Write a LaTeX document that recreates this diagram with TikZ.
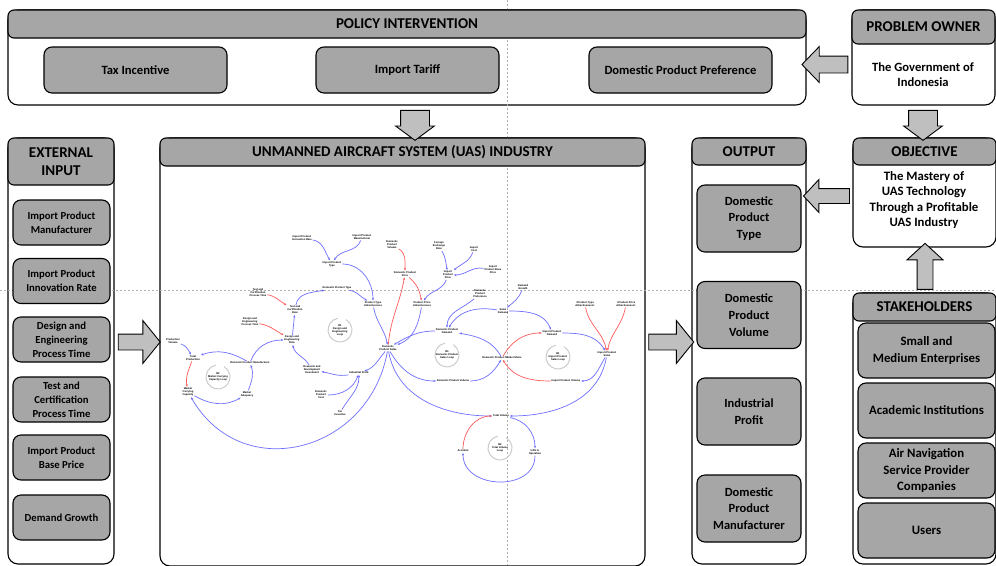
\documentclass[tikz,border=0pt]{standalone}
\usepackage{fontspec}
\setmainfont{Carlito}
\newfontfamily\cldfont{Liberation Sans}
\usetikzlibrary{shapes.arrows, arrows.meta}

\definecolor{headgray}{RGB}{166,166,166}
\definecolor{boxgray}{RGB}{166,166,166}
\definecolor{arrowgray}{RGB}{191,191,191}
\definecolor{cldblue}{RGB}{110,110,255}
\definecolor{cldred}{RGB}{255,90,90}
\definecolor{guidegray}{RGB}{175,175,175}
\definecolor{ringgray}{RGB}{205,205,205}

\newcommand{\headfont}{\fontsize{15}{17.5}\selectfont\bfseries}
\newcommand{\extfont}{\fontsize{10.7}{14}\selectfont\bfseries}
\newcommand{\outfont}{\fontsize{12.5}{16.7}\selectfont\bfseries}
\newcommand{\stakefont}{\fontsize{12.8}{16.5}\selectfont\bfseries}
\newcommand{\polfont}{\fontsize{12.6}{15}\selectfont\bfseries}
\newcommand{\cldtiny}{\cldfont\fontsize{2.6}{3}\selectfont\bfseries}

\tikzset{
  panel/.style={draw, line width=1.1pt, rounded corners=10pt, fill=white, anchor=north west, outer sep=0pt},
  header/.style={draw, line width=1.1pt, rounded corners=6pt, fill=headgray, anchor=north west, outer sep=0pt, align=center, font=\headfont},
  item/.style={draw, line width=1.1pt, rounded corners=8pt, fill=boxgray, align=center, outer sep=0pt},
  extitem/.style={item, minimum width=97, minimum height=45, font=\extfont},
  outitem/.style={item, minimum width=104, minimum height=67, font=\outfont},
  stakeitem/.style={item, minimum width=137, minimum height=55, font=\stakefont},
  politem/.style={item, minimum width=183, minimum height=46, font=\polfont},
  fatarrow/.style={single arrow, draw, line width=0.9pt, fill=arrowgray, inner xsep=0pt, outer sep=0pt},
  guide/.style={guidegray, line width=0.5pt, dash pattern=on 2pt off 2pt},
  var/.style={font=\cldtiny, align=center, inner sep=0.8pt},
  bluelink/.style={cldblue, line width=0.7pt, -{Stealth[length=2.6pt, width=2.2pt]}},
  redlink/.style={cldred, line width=0.7pt, -{Stealth[length=2.6pt, width=2.2pt]}},
  loopring/.style={ringgray, line width=1pt}
}

\begin{document}
\begin{tikzpicture}[x=1pt, y=1pt, font=\bfseries]
\useasboundingbox (0,0) rectangle (996,-565);

% panels
\node[panel, minimum width=798, minimum height=95] (policy) at (8,-10) {};
\node[panel, minimum width=143, minimum height=95] (owner) at (852,-10) {};
\node[panel, minimum width=106, minimum height=426] (extin) at (8,-138) {};
\node[panel, minimum width=485, minimum height=428] (uas) at (160,-138) {};
\node[panel, minimum width=114, minimum height=426] (output) at (692,-138) {};
\node[panel, minimum width=143, minimum height=109] (objective) at (853,-138) {};
\node[panel, minimum width=143, minimum height=271] (stake) at (853,-293) {};

% guide lines
\draw[guide] (0,-290) -- (996,-290);
\draw[guide] (507,0) -- (507,-565);

% headers
\node[header, minimum width=798, minimum height=28] (policyhead) at (policy.north west) {POLICY INTERVENTION};
\node[header, minimum width=143, minimum height=34] (ownerhead) at (owner.north west) {PROBLEM OWNER};
\node[header, minimum width=106, minimum height=47] (extinhead) at (extin.north west) {EXTERNAL\\INPUT};
\node[header, minimum width=485, minimum height=28] (uashead) at (uas.north west) {UNMANNED AIRCRAFT SYSTEM (UAS) INDUSTRY};
\node[header, minimum width=114, minimum height=27] (outputhead) at (output.north west) {OUTPUT};
\node[header, minimum width=143, minimum height=27] (objectivehead) at (objective.north west) {OBJECTIVE};
\node[header, minimum width=143, minimum height=28] (stakehead) at (stake.north west) {STAKEHOLDERS};

% panel texts
\node[align=center, font=\polfont] (ownertext) at (923,-75) {The Government of\\Indonesia};
\node[align=center, font=\fontsize{12.8}{15.5}\selectfont\bfseries] (objectivetext) at (924,-200) {The Mastery of\\UAS Technology\\Through a Profitable\\UAS Industry};

% policy items
\node[politem] (taxbox) at (135.5,-70) {Tax Incentive};
\node[politem] (tariffbox) at (407.5,-70) {Import Tariff};
\node[politem] (prefbox) at (680.5,-70) {Domestic Product Preference};

% external input items
\node[extitem] (ipmbox) at (61.5,-222.5) {Import Product\\Manufacturer};
\node[extitem] (ipirbox) at (61.5,-281) {Import Product\\Innovation Rate};
\node[extitem] (deptbox) at (61.5,-339.5) {Design and\\Engineering\\Process Time};
\node[extitem] (tcptbox) at (61.5,-399.5) {Test and\\Certification\\Process Time};
\node[extitem] (ipbpbox) at (61.5,-457.5) {Import Product\\Base Price};
\node[extitem] (dgbox) at (61.5,-517.5) {Demand Growth};

% output items
\node[outitem] (typebox) at (749,-218.5) {Domestic\\Product\\Type};
\node[outitem] (volbox) at (749,-315) {Domestic\\Product\\Volume};
\node[outitem] (profitbox) at (749,-411.5) {Industrial\\Profit};
\node[outitem] (manufbox) at (749,-508.5) {Domestic\\Product\\Manufacturer};

% stakeholder items
\node[stakeitem] (smebox) at (926.5,-350.5) {Small and\\Medium Enterprises};
\node[stakeitem] (acadbox) at (926.5,-410.5) {Academic Institutions};
\node[stakeitem] (ansbox) at (926.5,-470.5) {Air Navigation\\Service Provider\\Companies};
\node[stakeitem] (userbox) at (926.5,-530.5) {Users};

% block arrows between panels
\node[fatarrow, rotate=-90, minimum height=30, inner ysep=14, single arrow head extend=5, single arrow tip angle=107] (policyarrow) at (415,-120) {};
\node[fatarrow, rotate=-90, minimum height=30, inner ysep=14, single arrow head extend=5, single arrow tip angle=107] (ownerdown) at (923,-120) {};
\node[fatarrow, rotate=180, minimum height=46, inner ysep=8, single arrow head extend=9.5, single arrow tip angle=92] (ownerarrow) at (829,-64.5) {};
\node[fatarrow, rotate=180, minimum height=46, inner ysep=7, single arrow head extend=9, single arrow tip angle=94] (objarrow) at (830,-196) {};
\node[fatarrow, rotate=90, minimum height=46, inner ysep=7.5, single arrow head extend=10, single arrow tip angle=95] (stakearrow) at (925,-270) {};
\node[fatarrow, minimum height=42, inner ysep=7.5, single arrow head extend=13.5, single arrow tip angle=102] (inarrow) at (136,-342) {};
\node[fatarrow, minimum height=45, inner ysep=7.5, single arrow head extend=13.5, single arrow tip angle=102] (outarrow) at (668,-342) {};

% causal loop diagram variables
\node[var] (ipir) at (302,-238) {Import Product\\Innovation Rate};
\node[var] (ipm) at (362,-237) {Import Product\\Manufacturer};
\node[var] (ipt) at (332,-264) {Import Product\\Type};
\node[var] (dpvs) at (392,-245) {Domestic\\Product\\Volume};
\node[var] (dpp) at (405,-274) {Domestic Product\\Price};
\node[var] (fer) at (439,-246) {Foreign\\Exchange\\Rate};
\node[var] (ic) at (474,-249) {Import\\Cost};
\node[var] (ipbp) at (493,-270) {Import\\Product Base\\Price};
\node[var] (ipp) at (448,-275) {Import\\Product\\Price};
\node[var] (dpt) at (337,-288) {Domestic Product Type};
\node[var] (tcpt) at (258,-293) {Test and\\Certification\\Process Time};
\node[var] (tcr) at (295,-310) {Test and\\Certification\\Rate};
\node[var] (pta) at (373,-304) {Product Type\\Attractiveness};
\node[var] (ppa) at (422,-304) {Product Price\\Attractiveness};
\node[var] (dpref) at (480,-294) {Domestic\\Product\\Preference};
\node[var] (dg) at (523,-287) {Demand\\Growth};
\node[var] (sd) at (503,-311) {Sales\\Demand};
\node[var] (spta) at (585,-304) {<Product Type\\Attractiveness>};
\node[var] (sppa) at (626,-304) {<Product Price\\Attractiveness>};
\node[var] (dept) at (250,-322) {Design and\\Engineering\\Process Time};
\node[var] (der) at (292,-340) {Design and\\Engineering\\Rate};
\node[var] (dps) at (388,-348) {Domestic\\Product Sales};
\node[var] (dpd) at (447,-331) {Domestic Product\\Demand};
\node[var] (ipd) at (552,-333) {Import Product\\Demand};
\node[var] (pv) at (173,-341) {Production\\Volume};
\node[var] (tp) at (193,-358) {Total\\Production};
\node[var] (dpm) at (250,-363) {Domestic Product Manufacturer};
\node[var] (rdi) at (312,-370) {Research and\\Development\\Investment};
\node[var] (ip) at (359,-373) {Industrial Profit};
\node[var] (dpms) at (502,-358) {Domestic Product Market Share};
\node[var] (ips) at (607,-354) {Import Product\\Sales};
\node[var] (mcc) at (188,-392) {Market\\Carrying\\Capacity};
\node[var] (ma) at (247,-394) {Market\\Adequacy};
\node[var] (dpc) at (321,-395) {Domestic\\Product\\Cost};
\node[var] (dpv) at (453,-381) {Domestic Product Volume};
\node[var] (ipv) at (566,-381) {Import Product Volume};
\node[var] (ti) at (340,-413) {Tax\\Incentive};
\node[var] (tv) at (501,-416) {Total Volume};
\node[var] (acc) at (463,-451) {Accident};
\node[var] (uio) at (535,-452) {UAS in\\Operation};

% loops
\draw[loopring] (340,-330) ++(100:12) arc[start angle=100, end angle=420, radius=12];
\node[var] (loopr1) at (340,-330) {R1\\Design and\\Engineering\\Loop};
\draw[loopring] (218,-377) ++(100:12) arc[start angle=100, end angle=420, radius=12];
\node[var] (loopr2) at (218,-377) {R2\\Market Carrying\\Capacity Loop};
\draw[loopring] (447,-355) ++(100:12) arc[start angle=100, end angle=420, radius=12];
\node[var] (loopr3) at (447,-355) {R3\\Domestic Product\\Sales Loop};
\draw[loopring] (558,-357) ++(100:12) arc[start angle=100, end angle=420, radius=12];
\node[var] (loopb1) at (558,-357) {B1\\Import Product\\Sales Loop};
\draw[loopring] (500,-448) ++(100:12) arc[start angle=100, end angle=420, radius=12];
\node[var] (loopb2) at (500,-448) {B2\\Total Volume\\Loop};

% links
\draw[bluelink] (ipir) to[out=-10, in=120] (ipt);
\draw[bluelink] (ipm) to[out=-110, in=60] (ipt);
\draw[bluelink] (ipt) to[out=0, in=90] (pta);
\draw[bluelink] (dpt) to[out=-10, in=150] (pta);
\draw[bluelink] (tcr) to[out=80, in=190] (dpt);
\draw[bluelink] (der) -- (tcr);
\draw[redlink] (tcpt) to[out=-10, in=150] (tcr);
\draw[redlink] (dept) to[out=-10, in=150] (der);
\draw[bluelink] (pta) to[out=-80, in=100] (dps);
\draw[bluelink] (ppa) to[out=-100, in=20] (dps);
\draw[redlink] (dpvs) to[out=-30, in=90] (dpp);
\draw[redlink] (dps) to[out=85, in=-100] (dpp);
\draw[redlink] (dpp) to[out=-40, in=100] (ppa);
\draw[bluelink] (fer) to[out=-60, in=100] (ipp);
\draw[bluelink] (ic) to[out=-110, in=40] (ipp);
\draw[bluelink] (ipbp) to[out=170, in=0] (ipp);
\draw[bluelink] (ipp) to[out=-110, in=60] (ppa);
\draw[bluelink] (dpref) to[out=-140, in=90] (dpd);
\draw[bluelink] (dg) to[out=-110, in=40] (sd);
\draw[bluelink] (sd) to[out=170, in=60] (dpd);
\draw[bluelink] (sd) to[out=0, in=110] (ipd);
\draw[bluelink] (dpms) to[out=120, in=-10] (dpd);
\draw[bluelink] (dpd) to[out=180, in=30] (dps);
\draw[bluelink] (dps) to[out=-60, in=180] (dpv);
\draw[bluelink] (dpv) to[out=0, in=-120] (dpms);
\draw[redlink] (dpms) to[out=60, in=180] (ipd);
\draw[redlink] (ipv) to[out=180, in=-60] (dpms);
\draw[bluelink] (ipd) to[out=0, in=120] (ips);
\draw[bluelink] (ips) to[out=-120, in=0] (ipv);
\draw[redlink] (spta) to[out=-80, in=100] (ips);
\draw[redlink] (sppa) to[out=-100, in=80] (ips);
\draw[bluelink] (dps) to[out=-80, in=180] (tv);
\draw[bluelink] (ips) to[out=-100, in=0] (tv);
\draw[bluelink] (tv) to[out=-10, in=90] (uio);
\draw[bluelink] (uio) to[out=-90, in=-90, looseness=1.3] (acc);
\draw[redlink] (acc) to[out=90, in=180] (tv);
\draw[bluelink] (dps) to[out=-130, in=20] (ip);
\draw[bluelink] (ip) to[out=190, in=-10] (rdi);
\draw[bluelink] (rdi) to[out=120, in=-80] (der);
\draw[bluelink] (dpc) to[out=0, in=-110] (ip);
\draw[bluelink] (ti) to[out=60, in=-90] (ip);
\draw[bluelink] (dpm) to[out=70, in=180] (der);
\draw[bluelink] (dpm) to[out=150, in=20] (tp);
\draw[bluelink] (pv) to[out=-20, in=120] (tp);
\draw[redlink] (tp) to[out=-110, in=100] (mcc);
\draw[bluelink] (mcc) to[out=-30, in=-150] (ma);
\draw[bluelink] (ma) to[out=70, in=-70] (dpm);
\draw[bluelink] (dps) to[out=-100, in=-60, looseness=1.3] (mcc);
\end{tikzpicture}
\end{document}
